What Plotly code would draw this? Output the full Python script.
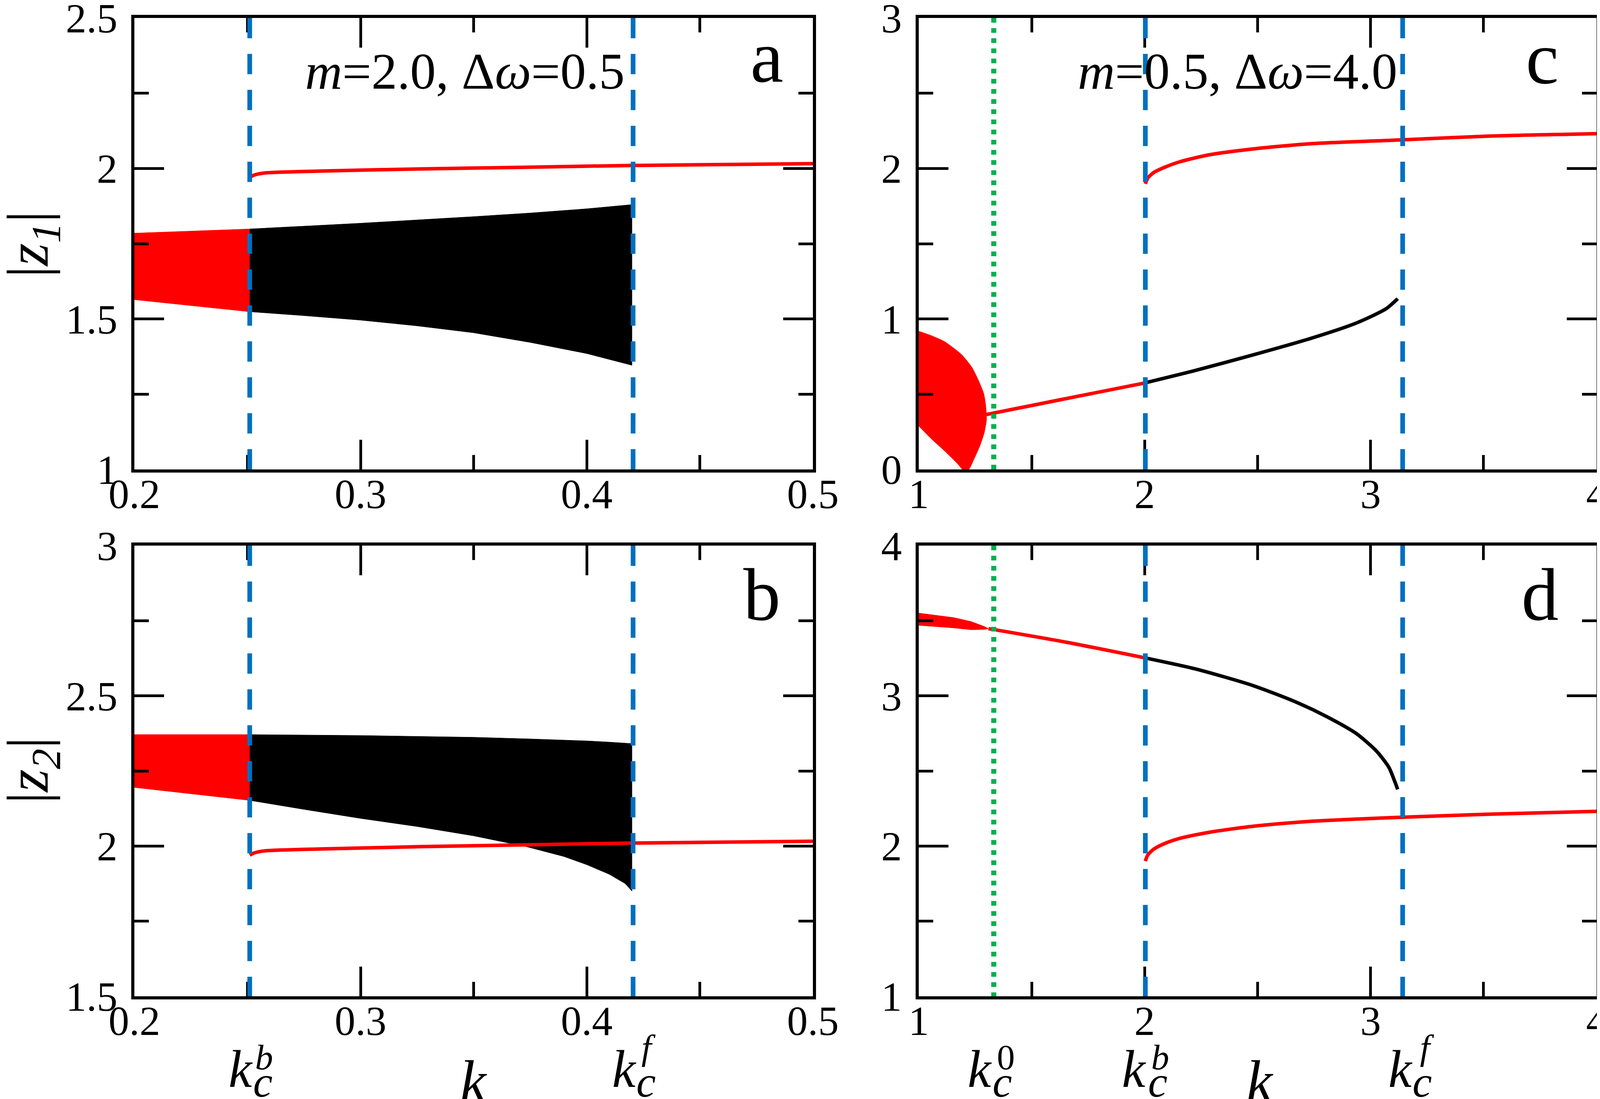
import plotly.graph_objects as go

W, H = 4105, 2814
FONT = "Liberation Serif"
RED = "#ff0000"
BLUE = "#0070c0"
GREEN = "#00b050"

# ---- panel a : |z1|, m=2.0, dw=0.5 ----
a_red_k = [0.2, 0.251]
a_red_hi = [1.785, 1.799]
a_red_lo = [1.564, 1.524]
a_blk_k = [0.251, 0.275, 0.3, 0.325, 0.35, 0.375, 0.4, 0.42]
a_blk_hi = [1.799, 1.808, 1.818, 1.829, 1.84, 1.852, 1.866, 1.88]
a_blk_lo = [1.524, 1.511, 1.496, 1.477, 1.454, 1.422, 1.385, 1.346]
a_line_k = [0.251, 0.253, 0.2576, 0.2807, 0.327, 0.3733, 0.4195, 0.5]
a_line_z = [1.971, 1.978, 1.985, 1.991, 1.9985, 2.004, 2.01, 2.016]

# ---- panel b : |z2|, m=2.0, dw=0.5 ----
b_red_k = [0.2, 0.251]
b_red_hi = [2.371, 2.371]
b_red_lo = [2.195, 2.152]
b_blk_k = [0.251, 0.275, 0.3, 0.325, 0.35, 0.3733, 0.39, 0.4, 0.41, 0.417, 0.42]
b_blk_hi = [2.371, 2.37, 2.368, 2.365, 2.362, 2.357, 2.353, 2.35, 2.346, 2.342, 2.341]
b_blk_lo = [2.152, 2.122, 2.092, 2.065, 2.034, 1.998, 1.965, 1.938, 1.906, 1.875, 1.85]
b_line_k = [0.251, 0.253, 0.2576, 0.2807, 0.327, 0.3733, 0.4195, 0.5]
b_line_z = [1.97, 1.977, 1.984, 1.99, 1.998, 2.004, 2.01, 2.016]

# ---- panel c : |z1|, m=0.5, dw=4.0 ----
c_red_k = [1.0, 1.058, 1.115, 1.19, 1.236, 1.265, 1.288, 1.297, 1.30,
           1.29, 1.271, 1.245, 1.221, 1.194, 1.173, 1.115, 1.058, 1.0]
c_red_z = [0.919, 0.888, 0.849, 0.763, 0.677, 0.59, 0.503, 0.418, 0.33,
           0.244, 0.158, 0.07, 0.0, 0.0, 0.036, 0.122, 0.2, 0.288]
c_low_k = [1.30, 1.5, 1.7, 2.003]
c_low_z = [0.365, 0.425, 0.485, 0.575]
c_blk_k = [2.003, 2.222, 2.482, 2.742, 2.937, 3.068, 3.12]
c_blk_z = [0.576, 0.657, 0.762, 0.874, 0.973, 1.067, 1.135]
c_up_k = [2.003, 2.0135, 2.04, 2.092, 2.157, 2.287, 2.482, 2.742, 3.142, 3.523, 4.0]
c_up_z = [1.898, 1.935, 1.973, 2.01, 2.045, 2.091, 2.13, 2.165, 2.19, 2.215, 2.231]

# ---- panel d : |z2|, m=0.5, dw=4.0 ----
d_red_k = [1.0, 1.154, 1.231, 1.293, 1.309]
d_red_hi = [3.551, 3.521, 3.495, 3.46, 3.447]
d_red_lo = [3.469, 3.452, 3.44, 3.442, 3.447]
d_mid_k = [1.309, 1.656, 2.0]
d_mid_z = [3.447, 3.356, 3.253]
d_blk_k = [2.0, 2.222, 2.482, 2.677, 2.807, 2.937, 3.028, 3.081, 3.107, 3.12]
d_blk_z = [3.253, 3.18, 3.067, 2.954, 2.861, 2.749, 2.629, 2.524, 2.43, 2.377]
d_low_k = [2.003, 2.0135, 2.04, 2.092, 2.157, 2.287, 2.482, 2.742, 3.142, 3.523, 4.0]
d_low_z = [1.9, 1.94, 1.979, 2.019, 2.052, 2.092, 2.132, 2.165, 2.192, 2.212, 2.231]

# critical couplings
kc_left = [0.251, 0.4205]
kc_right_0 = 1.332
kc_right = [2.003, 3.142]


def band(k, hi, lo, color, xa, ya):
    return go.Scatter(x=k + k[::-1], y=hi + lo[::-1], fill="toself",
                      fillcolor=color, mode="lines", line=dict(color=color, width=1),
                      xaxis=xa, yaxis=ya, hoverinfo="skip")


def blob(k, z, color, xa, ya):
    return go.Scatter(x=k, y=z, fill="toself", fillcolor=color, mode="lines",
                      line=dict(color=color, width=1, shape="spline", smoothing=0.6),
                      xaxis=xa, yaxis=ya)


def curve(k, z, color, xa, ya):
    return go.Scatter(x=k, y=z, mode="lines",
                      line=dict(color=color, width=9, shape="spline", smoothing=0.7),
                      xaxis=xa, yaxis=ya)


traces = [
    band(a_red_k, a_red_hi, a_red_lo, RED, "x", "y"),
    band(a_blk_k, a_blk_hi, a_blk_lo, "black", "x", "y"),
    curve(a_line_k, a_line_z, RED, "x", "y"),
    band(b_red_k, b_red_hi, b_red_lo, RED, "x2", "y2"),
    band(b_blk_k, b_blk_hi, b_blk_lo, "black", "x2", "y2"),
    curve(b_line_k, b_line_z, RED, "x2", "y2"),
    blob(c_red_k, c_red_z, RED, "x3", "y3"),
    curve(c_low_k, c_low_z, RED, "x3", "y3"),
    curve(c_blk_k, c_blk_z, "black", "x3", "y3"),
    curve(c_up_k, c_up_z, RED, "x3", "y3"),
    band(d_red_k, d_red_hi, d_red_lo, RED, "x4", "y4"),
    curve(d_mid_k, d_mid_z, RED, "x4", "y4"),
    curve(d_blk_k, d_blk_z, "black", "x4", "y4"),
    curve(d_low_k, d_low_z, RED, "x4", "y4"),
]

fig = go.Figure(traces)


def ax(domain, rng, dtick, minor, anchor, standoff):
    return dict(domain=domain, range=rng, dtick=dtick, anchor=anchor,
                automargin=False, ticklabeloverflow="allow",
                showline=True, linecolor="black", linewidth=8, mirror="ticks",
                ticks="inside", ticklen=76, tickwidth=7, tickcolor="black",
                minor=dict(dtick=minor, ticks="inside", ticklen=37, tickwidth=7,
                           tickcolor="black"),
                showgrid=False, zeroline=False, ticklabelstandoff=standoff,
                tickfont=dict(family=FONT, size=106, color="black"))


xl = [336 / W, 2073 / W]
xr = [2344 / W, 4079 / W]
yt = [1 - 1194 / H, 1 - 38 / H]
yb = [1 - 2543 / H, 1 - 1389 / H]

fig.update_layout(
    template="none",
    width=W, height=H, margin=dict(l=0, r=0, t=0, b=0, pad=0, autoexpand=False),
    paper_bgcolor="white", plot_bgcolor="white", showlegend=False,
    xaxis=ax(xl, [0.2, 0.5], 0.1, 0.05, "y", -36),
    yaxis=ax(yt, [1, 2.5], 0.5, 0.25, "x", 14),
    xaxis2=ax(xl, [0.2, 0.5], 0.1, 0.05, "y2", -36),
    yaxis2=ax(yb, [1.5, 3], 0.5, 0.25, "x2", 14),
    xaxis3=ax(xr, [1, 4], 1, 0.5, "y3", -36),
    yaxis3=ax(yt, [0, 3], 1, 0.5, "x3", 14),
    xaxis4=ax(xr, [1, 4], 1, 0.5, "y4", -36),
    yaxis4=ax(yb, [1, 4], 1, 0.5, "x4", 14),
)

shapes = []
for xa, ya, vals in [("x", "y", kc_left), ("x2", "y2", kc_left),
                     ("x3", "y3", kc_right), ("x4", "y4", kc_right)]:
    for v in vals:
        shapes.append(dict(type="line", xref=xa, yref=ya + " domain", x0=v, x1=v,
                           y0=1, y1=0, layer="above",
                           line=dict(color=BLUE, width=12, dash="52px,40px")))
for xa, ya in [("x3", "y3"), ("x4", "y4")]:
    shapes.append(dict(type="line", xref=xa, yref=ya + " domain", x0=kc_right_0,
                       x1=kc_right_0, y0=1, y1=0, layer="above",
                       line=dict(color=GREEN, width=13, dash="12px,14px")))
fig.update_layout(shapes=shapes)


def note(text, px, py, size, angle=0, xref="paper", x=None, xshift=0):
    return dict(text=text, xref=xref, yref="paper",
                x=px / W if x is None else x, y=1 - py / H,
                xanchor="center", yanchor="middle", showarrow=False,
                textangle=angle, xshift=xshift,
                font=dict(family=FONT, size=size, color="black"))


ann = [
    note("<i>m</i>=2.0, Δ<i>ω</i>=0.5", 1182, 175, 132),
    note("<i>m</i>=0.5, Δ<i>ω</i>=4.0", 3160, 175, 132),
    note("a", 1955, 137, 190),
    note("b", 1942, 1515, 190),
    note("c", 3940, 141, 190),
    note("d", 3934, 1515, 190),
    note("|<i>z<sub>1</sub></i>|", 74, 618, 150, angle=-90),
    note("|<i>z<sub>2</sub></i>|", 74, 1965, 150, angle=-90),
    note("<i>k</i>", 1204, 2760, 150),
    note("<i>k</i>", 3217, 2760, 150),
]


def kc_label(xref, val, sup, dk, dc, ds, sup_base=2730):
    return [
        note("<i>k</i>", 0, 2775 - 0.3375 * 135, 135, xref=xref, x=val, xshift=dk),
        note("<i>c</i>", 0, 2800 - 0.3375 * 112, 112, xref=xref, x=val, xshift=dc),
        note(sup, 0, sup_base - 0.3375 * 92, 92, xref=xref, x=val, xshift=ds),
    ]


ann += kc_label("x2", kc_left[0], "<i>b</i>", -23, 34, 37)
ann += kc_label("x2", kc_left[1], "<i>f</i>", -23, 33, 40, sup_base=2705)
ann += kc_label("x4", kc_right_0, "0", -36, 22, 31)
ann += kc_label("x4", kc_right[0], "<i>b</i>", -29, 32, 38)
ann += kc_label("x4", kc_right[1], "<i>f</i>", -6, 50, 63, sup_base=2705)
fig.update_layout(annotations=ann)

fig.write_html("out.html")
